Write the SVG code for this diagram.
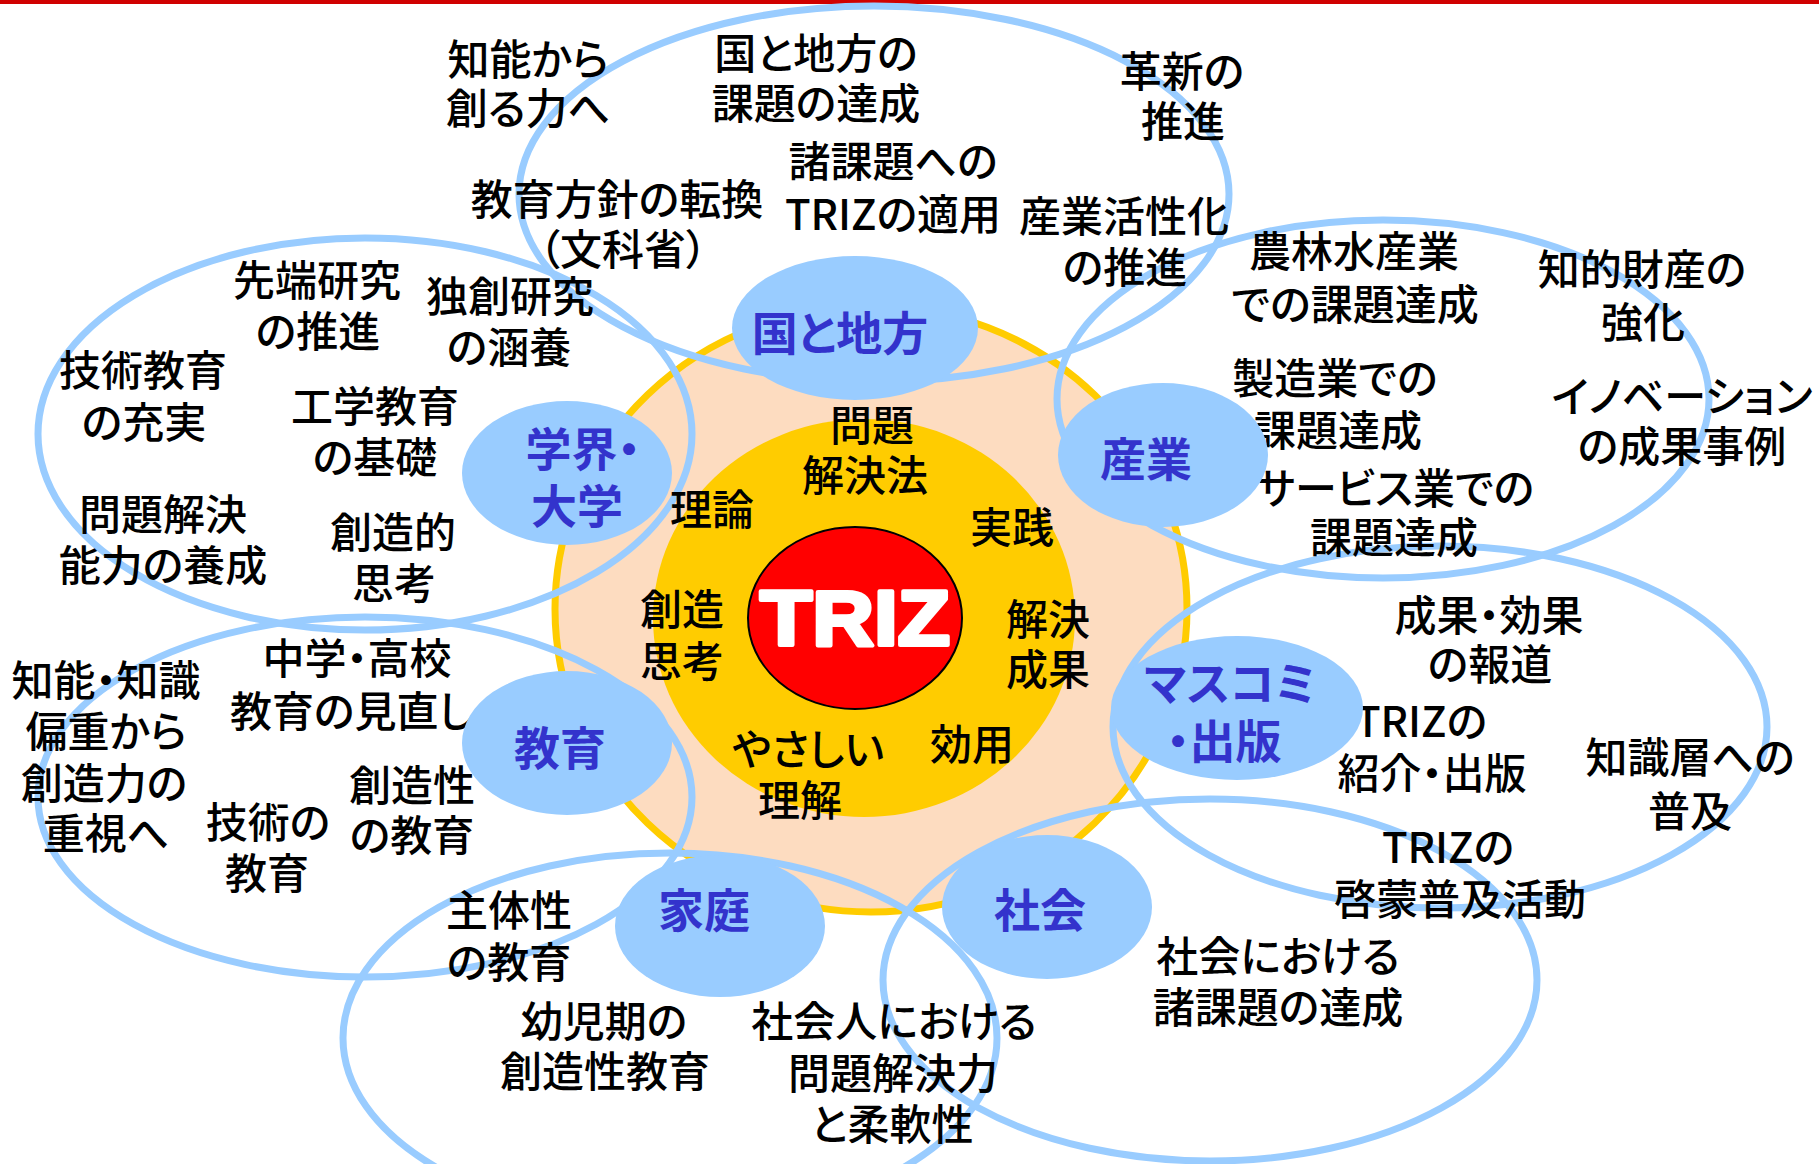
<svg xmlns="http://www.w3.org/2000/svg" width="1819" height="1164" viewBox="0 0 1819 1164">
<style>
.t{font-family:"Noto Sans CJK JP","Noto Sans",sans-serif;font-size:42px;font-weight:500;fill:#000;text-anchor:middle;font-feature-settings:"palt";}
.lb{font-family:"Noto Sans CJK JP","Noto Sans",sans-serif;font-size:46px;font-weight:bold;fill:#3333CC;text-anchor:middle;font-feature-settings:"palt";}
.ring{fill:none;stroke:#99CCFF;stroke-width:7;}
.bub{fill:#99CCFF;stroke:none;}
</style>
<rect x="0" y="0" width="1819" height="1164" fill="#FFFFFF"/>
<rect x="0" y="0" width="1819" height="4" fill="#D00000"/>

<g id="core">
  <ellipse cx="871" cy="609" rx="316" ry="303" fill="#FDDCC0" stroke="#FFCC00" stroke-width="7"/>
  <ellipse cx="864" cy="618" rx="211" ry="199" fill="#FFCC00"/>
  <ellipse cx="855" cy="618" rx="107" ry="91" fill="#FF0000" stroke="#000" stroke-width="2"/>
  <text x="855" y="645" font-family="Liberation Sans, Arial, sans-serif" font-weight="bold" font-size="77" fill="#FFFFFF" stroke="#FFFFFF" stroke-width="4" stroke-linejoin="round" text-anchor="middle" textLength="190" lengthAdjust="spacingAndGlyphs">TRIZ</text>
</g>

<g id="regions">
  <ellipse class="ring" cx="874" cy="194" rx="355" ry="188"/>
  <ellipse class="ring" cx="365" cy="434" rx="327" ry="196"/>
  <ellipse class="ring" cx="365" cy="797" rx="327" ry="180"/>
  <ellipse class="ring" cx="670" cy="1038" rx="327" ry="185"/>
  <ellipse class="ring" cx="1210" cy="980" rx="327" ry="181"/>
  <ellipse class="ring" cx="1440" cy="727" rx="327" ry="181"/>
  <ellipse class="ring" cx="1383" cy="399" rx="326" ry="179"/>
</g>

<g id="connectors"></g>

<g id="core-texts">
  <g id="n-mondai"><text class="t"><tspan x="872" y="441">問題</tspan><tspan x="865" y="491">解決法</tspan></text></g>
  <g id="n-riron"><text class="t" x="712" y="525">理論</text></g>
  <g id="n-jissen"><text class="t" x="1012" y="543">実践</text></g>
  <g id="n-souzou"><text class="t"><tspan x="682" y="625">創造</tspan><tspan x="682" y="677">思考</tspan></text></g>
  <g id="n-kaiketsu"><text class="t"><tspan x="1048" y="635">解決</tspan><tspan x="1048" y="685">成果</tspan></text></g>
  <g id="n-yasashii"><text class="t"><tspan x="808" y="765">やさしい</tspan><tspan x="800" y="816">理解</tspan></text></g>
  <g id="n-kouyou"><text class="t" x="972" y="760">効用</text></g>
</g>

<g id="ideas">
  <g id="i1"><text class="t"><tspan x="528" y="75">知能から</tspan><tspan x="528" y="124">創る力へ</tspan></text></g>
  <g id="i2"><text class="t"><tspan x="816" y="69">国と地方の</tspan><tspan x="816" y="119">課題の達成</tspan></text></g>
  <g id="i3"><text class="t"><tspan x="1182" y="87">革新の</tspan><tspan x="1183" y="137">推進</tspan></text></g>
  <g id="i4"><text class="t"><tspan x="893" y="177">諸課題への</tspan><tspan x="893" y="230">TRIZの適用</tspan></text></g>
  <g id="i5"><text class="t"><tspan x="617" y="215">教育方針の転換</tspan><tspan x="623" y="265">（文科省）</tspan></text></g>
  <g id="i6"><text class="t"><tspan x="1124" y="232">産業活性化</tspan><tspan x="1125" y="283">の推進</tspan></text></g>
  <g id="i7"><text class="t"><tspan x="317" y="296">先端研究</tspan><tspan x="318" y="347">の推進</tspan></text></g>
  <g id="i8"><text class="t"><tspan x="510" y="312">独創研究</tspan><tspan x="509" y="363">の涵養</tspan></text></g>
  <g id="i9"><text class="t"><tspan x="1354" y="267">農林水産業</tspan><tspan x="1355" y="320">での課題達成</tspan></text></g>
  <g id="i10"><text class="t"><tspan x="1642" y="285">知的財産の</tspan><tspan x="1643" y="338">強化</tspan></text></g>
  <g id="i11"><text class="t"><tspan x="143" y="386">技術教育</tspan><tspan x="144" y="438">の充実</tspan></text></g>
  <g id="i12"><text class="t"><tspan x="375" y="422">工学教育</tspan><tspan x="375" y="473">の基礎</tspan></text></g>
  <g id="i13"><text class="t"><tspan x="1335" y="394">製造業での</tspan><tspan x="1338" y="446">課題達成</tspan></text></g>
  <g id="i14"><text class="t"><tspan x="1682" y="412">イノベーション</tspan><tspan x="1682" y="462">の成果事例</tspan></text></g>
  <g id="i15"><text class="t"><tspan x="1395" y="504">サービス業での</tspan><tspan x="1394" y="553">課題達成</tspan></text></g>
  <g id="i16"><text class="t"><tspan x="163" y="530">問題解決</tspan><tspan x="163" y="581">能力の養成</tspan></text></g>
  <g id="i17"><text class="t"><tspan x="393" y="548">創造的</tspan><tspan x="394" y="599">思考</tspan></text></g>
  <g id="i18"><text class="t"><tspan x="1489" y="631">成果・効果</tspan><tspan x="1490" y="680">の報道</tspan></text></g>
  <g id="i19"><text class="t"><tspan x="357" y="674">中学・高校</tspan><tspan x="352" y="727">教育の見直し</tspan></text></g>
  <g id="i20"><text class="t"><tspan x="106" y="696">知能・知識</tspan><tspan x="106" y="747">偏重から</tspan><tspan x="104" y="799">創造力の</tspan><tspan x="106" y="849">重視へ</tspan></text></g>
  <g id="i21"><text class="t"><tspan x="1421" y="737">TRIZの</tspan><tspan x="1432" y="789">紹介・出版</tspan></text></g>
  <g id="i22"><text class="t"><tspan x="1690" y="773">知識層への</tspan><tspan x="1690" y="827">普及</tspan></text></g>
  <g id="i23"><text class="t"><tspan x="412" y="801">創造性</tspan><tspan x="412" y="851">の教育</tspan></text></g>
  <g id="i24"><text class="t"><tspan x="268" y="838">技術の</tspan><tspan x="267" y="889">教育</tspan></text></g>
  <g id="i25"><text class="t"><tspan x="1448" y="863">TRIZの</tspan><tspan x="1460" y="915">啓蒙普及活動</tspan></text></g>
  <g id="i26"><text class="t"><tspan x="509" y="926">主体性</tspan><tspan x="509" y="978">の教育</tspan></text></g>
  <g id="i27"><text class="t"><tspan x="1278" y="972">社会における</tspan><tspan x="1278" y="1023">諸課題の達成</tspan></text></g>
  <g id="i28"><text class="t"><tspan x="604" y="1037">幼児期の</tspan><tspan x="605" y="1087">創造性教育</tspan></text></g>
  <g id="i29"><text class="t"><tspan x="894" y="1037">社会人における</tspan><tspan x="893" y="1089">問題解決力</tspan><tspan x="892" y="1140">と柔軟性</tspan></text></g>
</g>

<g id="labels">
  <g id="l-kuni"><ellipse class="bub" cx="855" cy="328" rx="123" ry="72"/><text class="lb" x="840" y="350">国と地方</text></g>
  <g id="l-gakkai"><ellipse class="bub" cx="567" cy="473" rx="105" ry="72"/><text class="lb"><tspan x="583" y="466">学界・</tspan><tspan x="577" y="523">大学</tspan></text></g>
  <g id="l-sangyou"><ellipse class="bub" cx="1163" cy="455" rx="105" ry="72"/><text class="lb" x="1146" y="476">産業</text></g>
  <g id="l-masukomi"><ellipse class="bub" cx="1237" cy="708" rx="126" ry="72"/><text class="lb"><tspan x="1230" y="700">マスコミ</tspan><tspan x="1224" y="758">・出版</tspan></text></g>
  <g id="l-kyouiku"><ellipse class="bub" cx="567" cy="743" rx="105" ry="72"/><text class="lb" x="560" y="765">教育</text></g>
  <g id="l-katei"><ellipse class="bub" cx="720" cy="926" rx="105" ry="71"/><text class="lb" x="704" y="927">家庭</text></g>
  <g id="l-shakai"><ellipse class="bub" cx="1047" cy="907" rx="105" ry="72"/><text class="lb" x="1040" y="927">社会</text></g>
</g>
</svg>
